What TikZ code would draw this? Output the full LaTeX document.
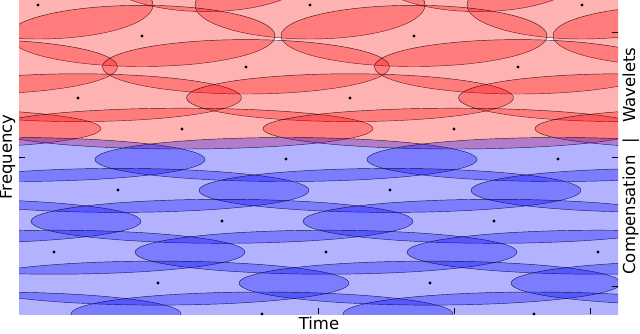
\documentclass[tikz,border=0pt]{standalone}
\usepackage{fontspec}
\setmainfont{DejaVu Sans}
\begin{document}
\begin{tikzpicture}[x=1pt,y=-1pt,
  atom/.style={fill opacity=0.3, draw=black, draw opacity=0.8, line width=0.45pt},
  centredot/.style={fill=black, draw=none},
  lbl/.style={font=\fontsize{16.5}{19}\selectfont, inner sep=0pt},
  tickmark/.style={line width=0.6pt, black}]
\useasboundingbox (0,0) rectangle (640,333);
\begin{scope}
  \clip (19,0) rectangle (618,314);
  \foreach \k/\xk/\a/\b/\col in {
      -1/206/104/37.5/red, 0/38/115/34/red, 1/142/133/30.6/red,
      2/246/143.5/27.2/red, 3/78/163.5/23.9/red, 4/182/191/20.4/red,
      5/286/191/22/blue, 6/118/191/22/blue, 7/222/191/22/blue,
      8/54/191/22/blue, 9/158/191/22/blue, 10/262/191/22/blue}{
    \pgfmathsetmacro\yk{5+30.9*\k}
    \foreach \m in {-1,0,1,2}{
      \pgfmathsetmacro\xc{\xk+272*\m}
      \ifdim \xc pt > -100pt
        \ifdim \xc pt < 740pt
          \path[atom, fill=\col] (\xc,\yk) ellipse [x radius=\a pt, y radius=\b pt];
        \fi
      \fi
    }
  }
\end{scope}
% lattice points
\foreach \px/\py in {38/5, 310/5, 582/5, 142/36, 414/36, 246/67, 518/67,
    78/98, 350/98, 182/129, 454/129, 286/159, 558/159, 118/190, 390/190,
    222/221, 494/221, 54/252, 326/252, 598/252, 158/283, 430/283,
    262/314, 534/314}{
  \fill[centredot] (\px,\py) circle [radius=1.6pt];
}
% ticks
\foreach \tx in {318,454,590}{
  \draw[tickmark] (\tx,314) -- (\tx,308);
}
\draw[tickmark] (19,157) -- (25,157);
\foreach \ty in {32,157,286}{
  \draw[tickmark] (618,\ty) -- (612,\ty);
}
% labels
\node[lbl, anchor=base] (timelbl) at (319,329) {Time};
\node[lbl, anchor=base, rotate=90] (freqlbl) at (12,157) {Frequency};
\node[lbl, anchor=base, rotate=90] (wavlbl) at (635,85) {Wavelets};
\node[lbl, anchor=base, rotate=90] (barlbl) at (635,141) {|};
\node[lbl, anchor=base, rotate=90] (complbl) at (635,215) {Compensation};
\end{tikzpicture}
\end{document}
